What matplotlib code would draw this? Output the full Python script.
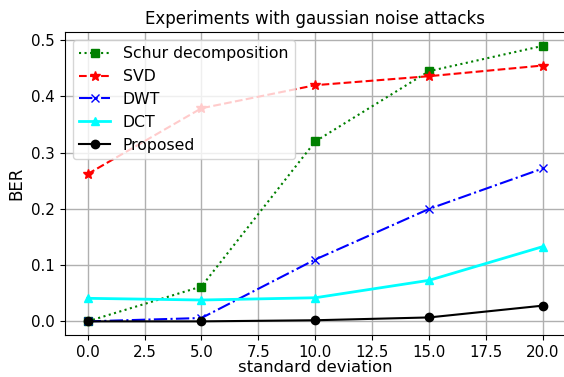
import matplotlib
matplotlib.use("Agg")
import matplotlib.pyplot as plt

# Noise levels (standard deviation of the gaussian attack)
std_dev = [0, 5, 10, 15, 20]

# Bit error rate of each watermarking scheme
ber_schur = [0.0, 0.062, 0.32, 0.445, 0.49]
ber_svd = [0.262, 0.379, 0.42, 0.436, 0.455]
ber_dwt = [0.0, 0.006, 0.11, 0.20, 0.272]
ber_dct = [0.041, 0.038, 0.042, 0.073, 0.133]
ber_proposed = [0.0, 0.0, 0.002, 0.007, 0.028]

fig = plt.figure(figsize=(5.64, 3.77), dpi=100)
ax = fig.add_axes([0.115, 0.111, 0.888, 0.804])

ax.plot(std_dev, ber_schur, color="green", linestyle=":", marker="s",
        markersize=6, linewidth=1.5, label="Schur decomposition")
ax.plot(std_dev, ber_svd, color="red", linestyle="--", marker="*",
        markersize=7, linewidth=1.5, label="SVD")
ax.plot(std_dev, ber_dwt, color="blue", linestyle="-.", marker="x",
        markersize=6, linewidth=1.5, label="DWT")
ax.plot(std_dev, ber_dct, color="cyan", linestyle="-", marker="^",
        markersize=6, linewidth=2, label="DCT")
ax.plot(std_dev, ber_proposed, color="black", linestyle="-", marker="o",
        markersize=6, linewidth=1.5, label="Proposed")

ax.grid(True, color="#b0b0b0", linewidth=1)
ax.set_axisbelow(True)
ax.tick_params(labelsize=10.8)
ax.set_xticks([0, 2.5, 5, 7.5, 10, 12.5, 15, 17.5, 20])
ax.set_xlabel("standard deviation", fontsize=11.8, labelpad=0)
ax.set_ylabel("BER", fontsize=12)
ax.set_title("Experiments with gaussian noise attacks", fontsize=12)
ax.legend(loc="upper left", fontsize=11.3)

fig.savefig("out.png", dpi=100)
